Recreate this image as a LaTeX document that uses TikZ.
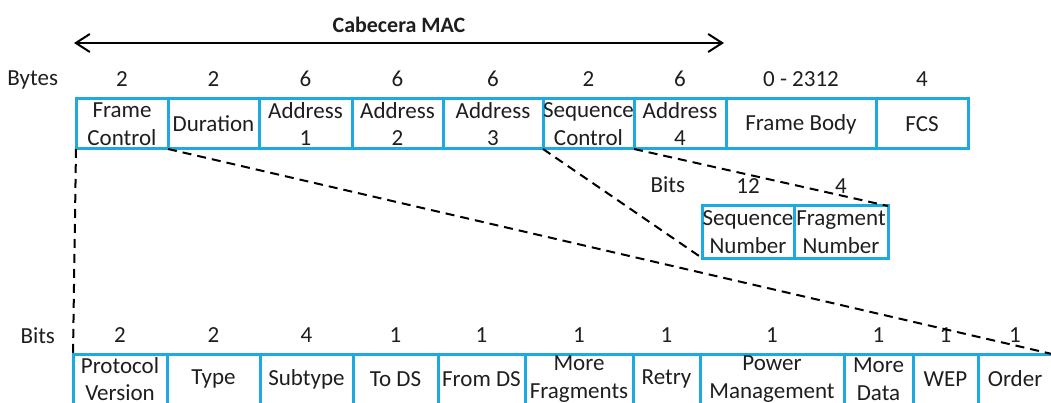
\documentclass[tikz,border=0pt]{standalone}
\usepackage{fontspec}
\setmainfont{Carlito}
\usepackage{tikz}
\usetikzlibrary{arrows.meta}
\usetikzlibrary{positioning}

\definecolor{fieldblue}{RGB}{28,170,224}
\definecolor{txt}{RGB}{30,30,30}

\begin{document}
\begin{tikzpicture}[x=1pt, y=-1pt, field/.style={draw=fieldblue, line width=3pt, rectangle, inner sep=0pt, outer sep=0pt,
        minimum height=50pt, align=center, text=txt, font=\fontsize{23}{27.5}\selectfont},
        num/.style={inner sep=0pt, outer sep=0pt, text=txt, font=\fontsize{23}{27.5}\selectfont},
        link/.style={dashed, dash pattern=on 9pt off 6pt, line width=2pt}, >={Straight Barb[length=14pt,width=18pt]}]

        \useasboundingbox (0,0) rectangle (1051,403);
        \clip (0,0) rectangle (1051,403);

        % cabecera
        \coordinate (macL) at (74,43);
        \coordinate (macR) at (724,43);
        \draw[<->, line width=2pt] (macL) -- (macR);
        \node[num, font=\fontsize{22}{26}\selectfont\bfseries, anchor=base] (mac) at (399,33) {Cabecera MAC};

        % trama MAC
        \node[field, minimum width=92pt, anchor=north west] (fc) at (76,99) {Frame\\Control};
        \node[field, minimum width=91pt, right=0pt of fc] (dur) {Duration};
        \node[field, minimum width=93pt, right=0pt of dur] (ad1) {Address\\1};
        \node[field, minimum width=91pt, right=0pt of ad1] (ad2) {Address\\2};
        \node[field, minimum width=100pt, right=0pt of ad2] (ad3) {Address\\3};
        \node[field, minimum width=91pt, right=0pt of ad3] (sc) {Sequence\\Control};
        \node[field, minimum width=92pt, right=0pt of sc] (ad4) {Address\\4};
        \node[field, minimum width=150pt, right=0pt of ad4] (body) {Frame Body};
        \node[field, minimum width=92pt, right=0pt of body] (fcs) {FCS};

        \node[num, anchor=base east] (bytes) at (58,86) {Bytes};
        \node[num, above=12pt of fc] (nfc) {2};
        \node[num, above=12pt of dur] (ndur) {2};
        \node[num, above=12pt of ad1] (nad1) {6};
        \node[num, above=12pt of ad2] (nad2) {6};
        \node[num, above=12pt of ad3] (nad3) {6};
        \node[num, above=12pt of sc] (nsc) {2};
        \node[num, above=12pt of ad4] (nad4) {6};
        \node[num, above=12pt of body] (nbody) {0 - 2312};
        \node[num, above=12pt of fcs] (nfcs) {4};

        % sequence control
        \node[field, minimum width=92pt, minimum height=52pt, anchor=north west] (sn) at (702,206) {Sequence\\Number};
        \node[field, minimum width=94pt, minimum height=52pt, right=0pt of sn] (fn) {Fragment\\Number};

        \node[num, anchor=base east] (sbits) at (685,193) {Bits};
        \node[num, above=12pt of sn] (nsn) {12};
        \node[num, above=12pt of fn] (nfn) {4};

        % frame control
        \node[field, minimum width=94pt, anchor=north west] (pv) at (73,354) {Protocol\\Version};
        \node[field, minimum width=93pt, right=0pt of pv] (type) {Type};
        \node[field, minimum width=93pt, right=0pt of type] (sub) {Subtype};
        \node[field, minimum width=85pt, right=0pt of sub] (tods) {To DS};
        \node[field, minimum width=87pt, right=0pt of tods] (fromds) {From DS};
        \node[field, minimum width=108pt, right=0pt of fromds] (mf) {More\\Fragments};
        \node[field, minimum width=67pt, right=0pt of mf] (retry) {Retry};
        \node[field, minimum width=144pt, right=0pt of retry] (pm) {Power\\Management};
        \node[field, minimum width=69pt, right=0pt of pm] (md) {More\\Data};
        \node[field, minimum width=65pt, right=0pt of md] (wep) {WEP};
        \node[field, minimum width=74pt, right=0pt of wep] (order) {Order};

        \node[num, anchor=base east] (bits) at (55,343) {Bits};
        \node[num, above=12pt of pv] (npv) {2};
        \node[num, above=12pt of type] (ntype) {2};
        \node[num, above=12pt of sub] (nsub) {4};
        \node[num, above=12pt of tods] (ntods) {1};
        \node[num, above=12pt of fromds] (nfromds) {1};
        \node[num, above=12pt of mf] (nmf) {1};
        \node[num, above=12pt of retry] (nretry) {1};
        \node[num, above=12pt of pm] (npm) {1};
        \node[num, above=12pt of md] (nmd) {1};
        \node[num, above=12pt of wep] (nwep) {1};
        \node[num, above=12pt of order] (norder) {1};

        \draw[link] (fc.south west) -- (pv.north west);
        \draw[link] (fc.south east) -- (order.north east);
        \draw[link] (sc.south west) -- (sn.south west);
        \draw[link] (sc.south east) -- (fn.north east);

    \end{tikzpicture}
\end{document}
